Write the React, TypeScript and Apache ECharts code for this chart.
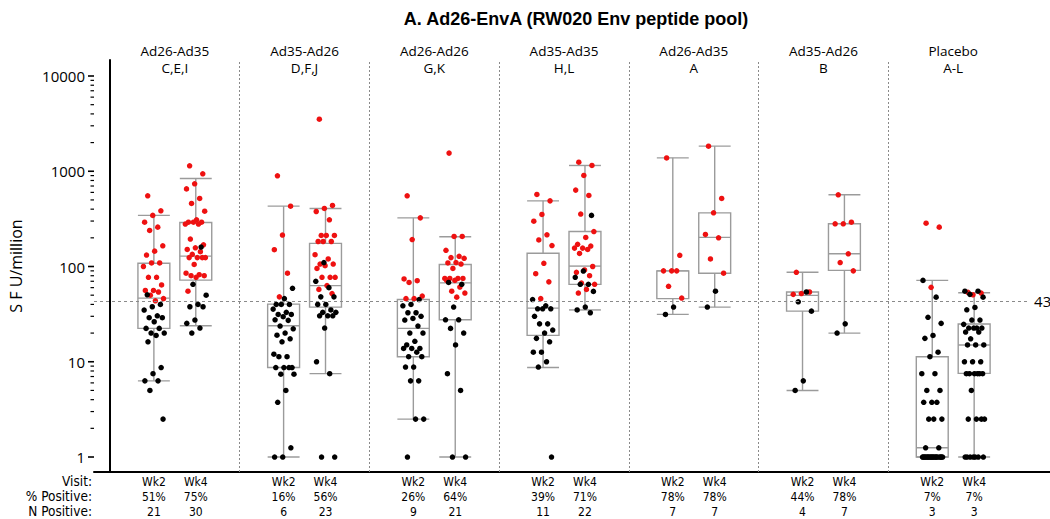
import React, { useEffect, useRef } from "react";
import * as echarts from "echarts";

// ---------------- data ----------------
const chartTitle = "A. Ad26-EnvA (RW020 Env peptide pool)";
const yAxisName = "S F U/million";
const groupNames = ["Ad26-Ad35", "Ad35-Ad26", "Ad26-Ad26", "Ad35-Ad35", "Ad26-Ad35", "Ad35-Ad26", "Placebo"];
const groupCodes = ["C,E,I", "D,F,J", "G,K", "H,L", "A", "B", "A-L"];
const visits = ["Wk2", "Wk4"];
const pctPositive = [51, 75, 16, 56, 26, 64, 39, 71, 78, 78, 44, 78, 7, 7];
const nPositive = [21, 30, 6, 23, 9, 21, 11, 22, 7, 7, 4, 7, 3, 3];
const rowLabels = ["Visit:", "% Positive:", "N Positive:"];
const threshold = 43;
const majorTicks = [1, 10, 100, 1000, 10000];
const minorMultipliers = [2, 3, 4, 5, 6, 7, 8, 9];

// box statistics, one entry per box (group x visit)
const whiskerLow = [6.3, 23.9, 1, 7.5, 2.5, 1, 8.7, 35, 31.4, 37.5, 5, 20, 1, 1];
const q1 = [22.4, 72, 8.7, 37.5, 11.3, 27.6, 18.9, 65, 46, 85, 34, 91, 1, 7.55];
const median = [46.6, 128.5, 23.9, 63, 22.4, 67.4, 36.6, 101, 90, 202, 49.8, 136, 1.25, 15];
const q3 = [108, 290, 40.3, 175, 45, 105, 138, 233, 90, 366, 54, 281, 11.3, 24.9];
const whiskerHigh = [344, 840, 430, 407, 324, 205, 489, 1150, 1383, 1834, 87, 566, 71.5, 53];

// individual responses (positive responders = red)
const positivePoints = [
  [552, 384, 344, 292, 259, 239, 165, 145, 132, 109, 109, 100, 77, 77, 64, 56, 56, 54, 50, 46, 43.6],
  [1140, 940, 738, 653, 518, 459, 381, 309, 292, 292, 292, 279, 279, 194, 169, 157, 151, 143, 134, 124, 124, 124, 124, 105, 85, 82, 80, 80, 77, 55],
  [895, 430, 214, 150, 85, 48],
  [3520, 438, 407, 378, 309, 212, 212, 212, 183, 183, 183, 133, 120, 106, 106, 102, 95.5, 77, 77, 77, 63, 57.5, 52],
  [552, 324, 192, 74, 71, 68, 49, 46, 46],
  [1550, 207, 207, 148, 128, 124, 122, 110, 109, 106, 95.5, 75, 75, 75, 75, 71.5, 71.5, 60.8, 55, 52.6, 47.7],
  [571, 489, 352, 299, 215, 190, 166, 108, 84, 69, 46],
  [1245, 1150, 904, 634, 557, 355, 233, 202, 171, 164, 156, 156, 151, 137, 100, 92, 87, 80, 67, 65, 57.5, 52.6],
  [1380, 131, 90, 90, 90, 62, 46.6],
  [1834, 518, 366, 217, 200, 120, 85],
  [87, 54, 52, 51],
  [566, 292, 281, 281, 136, 110, 90],
  [285, 259, 60.4],
  [53.5, 52.6, 50.5],
];
const negativePoints = [
  [50.5, 40, 37.8, 34.9, 30.4, 29, 29, 26.3, 22.4, 22.4, 20, 20, 18.9, 16.2, 8.7, 7.5, 6.3, 6.3, 5.0, 2.5],
  [160, 65, 50, 40, 37.8, 37.8, 27.4, 25.3, 22.6, 20],
  [59, 46, 40, 40, 40, 35.7, 33, 31.4, 31.4, 29.7, 27.6, 27.2, 23.7, 22.2, 20, 19, 17.4, 16.2, 12, 11.3, 11.3, 8.7, 8.7, 8.7, 8.7, 7.4, 7.4, 5, 3.75, 1.25, 1, 1],
  [110, 70, 60, 48, 48, 40, 40, 35, 33, 33, 30.4, 30.4, 30.4, 22.6, 10, 7.5, 1, 1],
  [45, 40, 38.7, 32.7, 32.7, 30, 28.5, 27.4, 23.7, 20, 20, 16.4, 15, 13.8, 13.8, 13.8, 12.6, 11.3, 11.3, 8.8, 8.8, 6.3, 6.3, 2.5, 2.5, 1],
  [68, 65, 37.5, 27.6, 27.6, 22.4, 20, 15, 7.5, 5, 1, 1],
  [45, 38.7, 36, 36, 36, 30, 25, 25, 21.5, 20, 17.6, 16.2, 12.6, 12.6, 10, 8.8, 1],
  [344, 89.5, 77, 65, 65, 54.8, 37.5, 35, 32.7],
  [37.5, 31.4],
  [55, 37.5],
  [54, 42.6, 34, 6.3, 5],
  [25, 20],
  [71.5, 47.7, 29.3, 25.3, 18.9, 17.6, 12.6, 11.3, 7.5, 7.5, 5, 5, 3.75, 3.75, 3.75, 2.5, 2.5, 2.5, 1.25, 1.25,
    1, 1, 1, 1, 1, 1, 1, 1, 1, 1, 1, 1, 1, 1, 1, 1, 1, 1, 1, 1],
  [55, 55, 51, 47.7, 37.2, 35.1, 27.4, 27.4, 24.7, 22.6, 22.6, 22.6, 22.6, 20.5, 20.5, 17.4, 15, 15, 15, 10, 10, 10,
    7.5, 7.5, 7.5, 7.5, 7.5, 7.5, 5, 2.5, 2.5, 2.5, 2.5, 1, 1, 1, 1, 1, 1, 1],
];

// ---------------- layout / style ----------------
const X_MIN = -16 / 130;
const X_MAX = X_MIN + 958 / 130;
const Y_MIN = 0.696;
const Y_MAX = 14723;
const VISIT_OFFSET = 0.1615;
const BOX_W = 0.246;
const JITTER = 0.082;
const REF_END = 7.077;
const RED = "#ee1111";
const BOX_COLOR = "#9b9b9b";
const SANS = "'Open Sans', 'Noto Sans', sans-serif";
const NARROW = "'Liberation Sans Narrow', 'DejaVu Sans Condensed', 'Open Sans', sans-serif";

const boxX = (b: number) => Math.floor(b / 2) + 0.5 + (b % 2 === 0 ? -VISIT_OFFSET : VISIT_OFFSET);
const jitter = (i: number) => ((((i * 0.6180339887 + 0.21) % 1) * 2) - 1) * JITTER;

export default function App() {
  const ref = useRef<HTMLDivElement>(null);

  useEffect(() => {
    document.body.style.margin = "0";
    if (!ref.current) return;
    const chart = echarts.init(ref.current, undefined, { renderer: "svg" });

    const redData: number[][] = [];
    const blackData: number[][] = [];
    positivePoints.forEach((arr, b) => arr.forEach((v, i) => redData.push([boxX(b) + jitter(i), v])));
    negativePoints.forEach((arr, b) =>
      arr.forEach((v, i) => blackData.push([boxX(b) + jitter(i + positivePoints[b].length), v]))
    );

    const boxData = whiskerLow.map((_, b) => [boxX(b), whiskerLow[b], q1[b], median[b], q3[b], whiskerHigh[b]]);

    const tickData: number[][] = [];
    majorTicks.forEach((t, k) => {
      tickData.push([X_MIN, t, 1]);
      if (k < majorTicks.length - 1) minorMultipliers.forEach((m) => tickData.push([X_MIN, t * m, 0]));
    });

    const tableData = pctPositive.map((_, b) => [boxX(b), Y_MIN]);
    const groupData = groupNames.map((_, g) => [g + 0.5, Y_MAX]);

    const sepLines = [1, 2, 3, 4, 5, 6].map((x) => ({
      xAxis: x,
      lineStyle: { type: [2, 2], color: "#8a8a8a", width: 1 },
      label: { show: false },
    }));

    const option: any = {
      animation: false,
      backgroundColor: "#ffffff",
      grid: { left: 92, right: 0, top: 60, bottom: 47 },
      xAxis: {
        type: "value",
        min: X_MIN,
        max: X_MAX,
        axisLine: { show: true, onZero: false, lineStyle: { color: "#000", width: 2 } },
        axisTick: { show: false },
        axisLabel: { show: false },
        splitLine: { show: false },
      },
      yAxis: {
        type: "log",
        logBase: 10,
        min: Y_MIN,
        max: Y_MAX,
        name: yAxisName,
        nameLocation: "middle",
        nameGap: 70,
        nameTextStyle: { fontSize: 16, fontFamily: SANS, color: "#000" },
        axisLine: { show: true, lineStyle: { color: "#000", width: 2 } },
        axisTick: { show: false },
        axisLabel: { show: false },
        splitLine: { show: false },
        minorTick: { show: false },
      },
      graphic: [
        {
          type: "text",
          x: 576,
          y: 19,
          style: {
            text: chartTitle,
            textAlign: "center",
            textVerticalAlign: "middle",
            fontSize: 18,
            fontWeight: "bold",
            fontFamily: "'Liberation Sans', Arial, sans-serif",
            fill: "#000",
          },
        },
        ...rowLabels.map((t, r) => ({
          type: "text",
          x: 92,
          y: 481 + r * 15,
          style: {
            text: t,
            textAlign: "right",
            textVerticalAlign: "middle",
            fontSize: 13.5,
            fontFamily: NARROW,
            fill: "#000",
          },
        })),
      ],
      series: [
        {
          type: "custom",
          name: "boxes",
          clip: false,
          z: 2,
          data: boxData,
          encode: { x: 0, y: [1, 2, 3, 4, 5] },
          renderItem: (params: any, api: any) => {
            const x = api.value(0);
            const c = (v: number) => api.coord([x, v]);
            const lo = c(api.value(1));
            const pq1 = c(api.value(2));
            const med = c(api.value(3));
            const pq3 = c(api.value(4));
            const hi = c(api.value(5));
            const xl = api.coord([x - BOX_W / 2, 1])[0];
            const xr = api.coord([x + BOX_W / 2, 1])[0];
            const cx = lo[0];
            const st = { stroke: BOX_COLOR, lineWidth: 1.4, fill: "none" };
            return {
              type: "group",
              children: [
                { type: "line", shape: { x1: cx, y1: pq1[1], x2: cx, y2: lo[1] }, style: st },
                { type: "line", shape: { x1: cx, y1: pq3[1], x2: cx, y2: hi[1] }, style: st },
                { type: "line", shape: { x1: xl, y1: lo[1], x2: xr, y2: lo[1] }, style: st },
                { type: "line", shape: { x1: xl, y1: hi[1], x2: xr, y2: hi[1] }, style: st },
                {
                  type: "rect",
                  shape: { x: xl, y: pq3[1], width: xr - xl, height: Math.max(pq1[1] - pq3[1], 0.5) },
                  style: st,
                },
                { type: "line", shape: { x1: xl, y1: med[1], x2: xr, y2: med[1] }, style: st },
              ],
            };
          },
        },
        {
          type: "scatter",
          name: "positive",
          z: 3,
          symbolSize: 5.5,
          itemStyle: { color: RED, opacity: 1 },
          data: redData,
        },
        {
          type: "scatter",
          name: "negative",
          z: 4,
          symbolSize: 5.5,
          itemStyle: { color: "#000", opacity: 1 },
          data: blackData,
          markLine: {
            silent: true,
            symbol: ["none", "none"],
            label: { show: false },
            data: [
              ...sepLines,
              [
                {
                  coord: [X_MIN, threshold],
                  lineStyle: { type: [3, 3], color: "#8a8a8a", width: 1 },
                  label: {
                    show: true,
                    position: "end",
                    formatter: String(threshold),
                    color: "#000",
                    fontSize: 15,
                    fontFamily: SANS,
                    distance: 6,
                  },
                },
                { coord: [REF_END, threshold] },
              ],
            ],
          },
        },
        {
          type: "custom",
          name: "yticks",
          clip: false,
          silent: true,
          data: tickData,
          encode: { x: 0, y: 1 },
          renderItem: (params: any, api: any) => {
            const p = api.coord([api.value(0), api.value(1)]);
            const major = api.value(2) === 1;
            const children: any[] = [
              {
                type: "line",
                shape: { x1: p[0] - (major ? 6 : 3.5), y1: p[1], x2: p[0], y2: p[1] },
                style: { stroke: "#000", lineWidth: major ? 1.6 : 1.2 },
              },
            ];
            if (major) {
              children.push({
                type: "text",
                x: p[0] - 9,
                y: p[1],
                style: {
                  text: String(api.value(1)),
                  textAlign: "right",
                  textVerticalAlign: "middle",
                  fontSize: 15,
                  fontFamily: SANS,
                  fill: "#000",
                },
              });
            }
            return { type: "group", children };
          },
        },
        {
          type: "custom",
          name: "table",
          clip: false,
          silent: true,
          data: tableData,
          encode: { x: 0, y: 1 },
          renderItem: (params: any, api: any) => {
            const b = params.dataIndex;
            const p = api.coord([api.value(0), api.value(1)]);
            const texts = [visits[b % 2], pctPositive[b] + "%", String(nPositive[b])];
            return {
              type: "group",
              children: texts.map((t, r) => ({
                type: "text",
                x: p[0],
                y: p[1] + 9.5 + r * 15,
                style: {
                  text: t,
                  textAlign: "center",
                  textVerticalAlign: "middle",
                  fontSize: 12,
                  fontFamily: NARROW,
                  fill: "#000",
                },
              })),
            };
          },
        },
        {
          type: "custom",
          name: "groups",
          clip: false,
          silent: true,
          data: groupData,
          encode: { x: 0, y: 1 },
          renderItem: (params: any, api: any) => {
            const g = params.dataIndex;
            const p = api.coord([api.value(0), api.value(1)]);
            return {
              type: "group",
              children: [groupNames[g], groupCodes[g]].map((t, r) => ({
                type: "text",
                x: p[0],
                y: p[1] - 9 + r * 17,
                style: {
                  text: t,
                  textAlign: "center",
                  textVerticalAlign: "middle",
                  fontSize: 13.5,
                  fontFamily: SANS,
                  fill: "#000",
                },
              })),
            };
          },
        },
      ],
    };

    chart.setOption(option);
    return () => chart.dispose();
  }, []);

  return <div ref={ref} style={{ width: 1050, height: 519 }} />;
}
